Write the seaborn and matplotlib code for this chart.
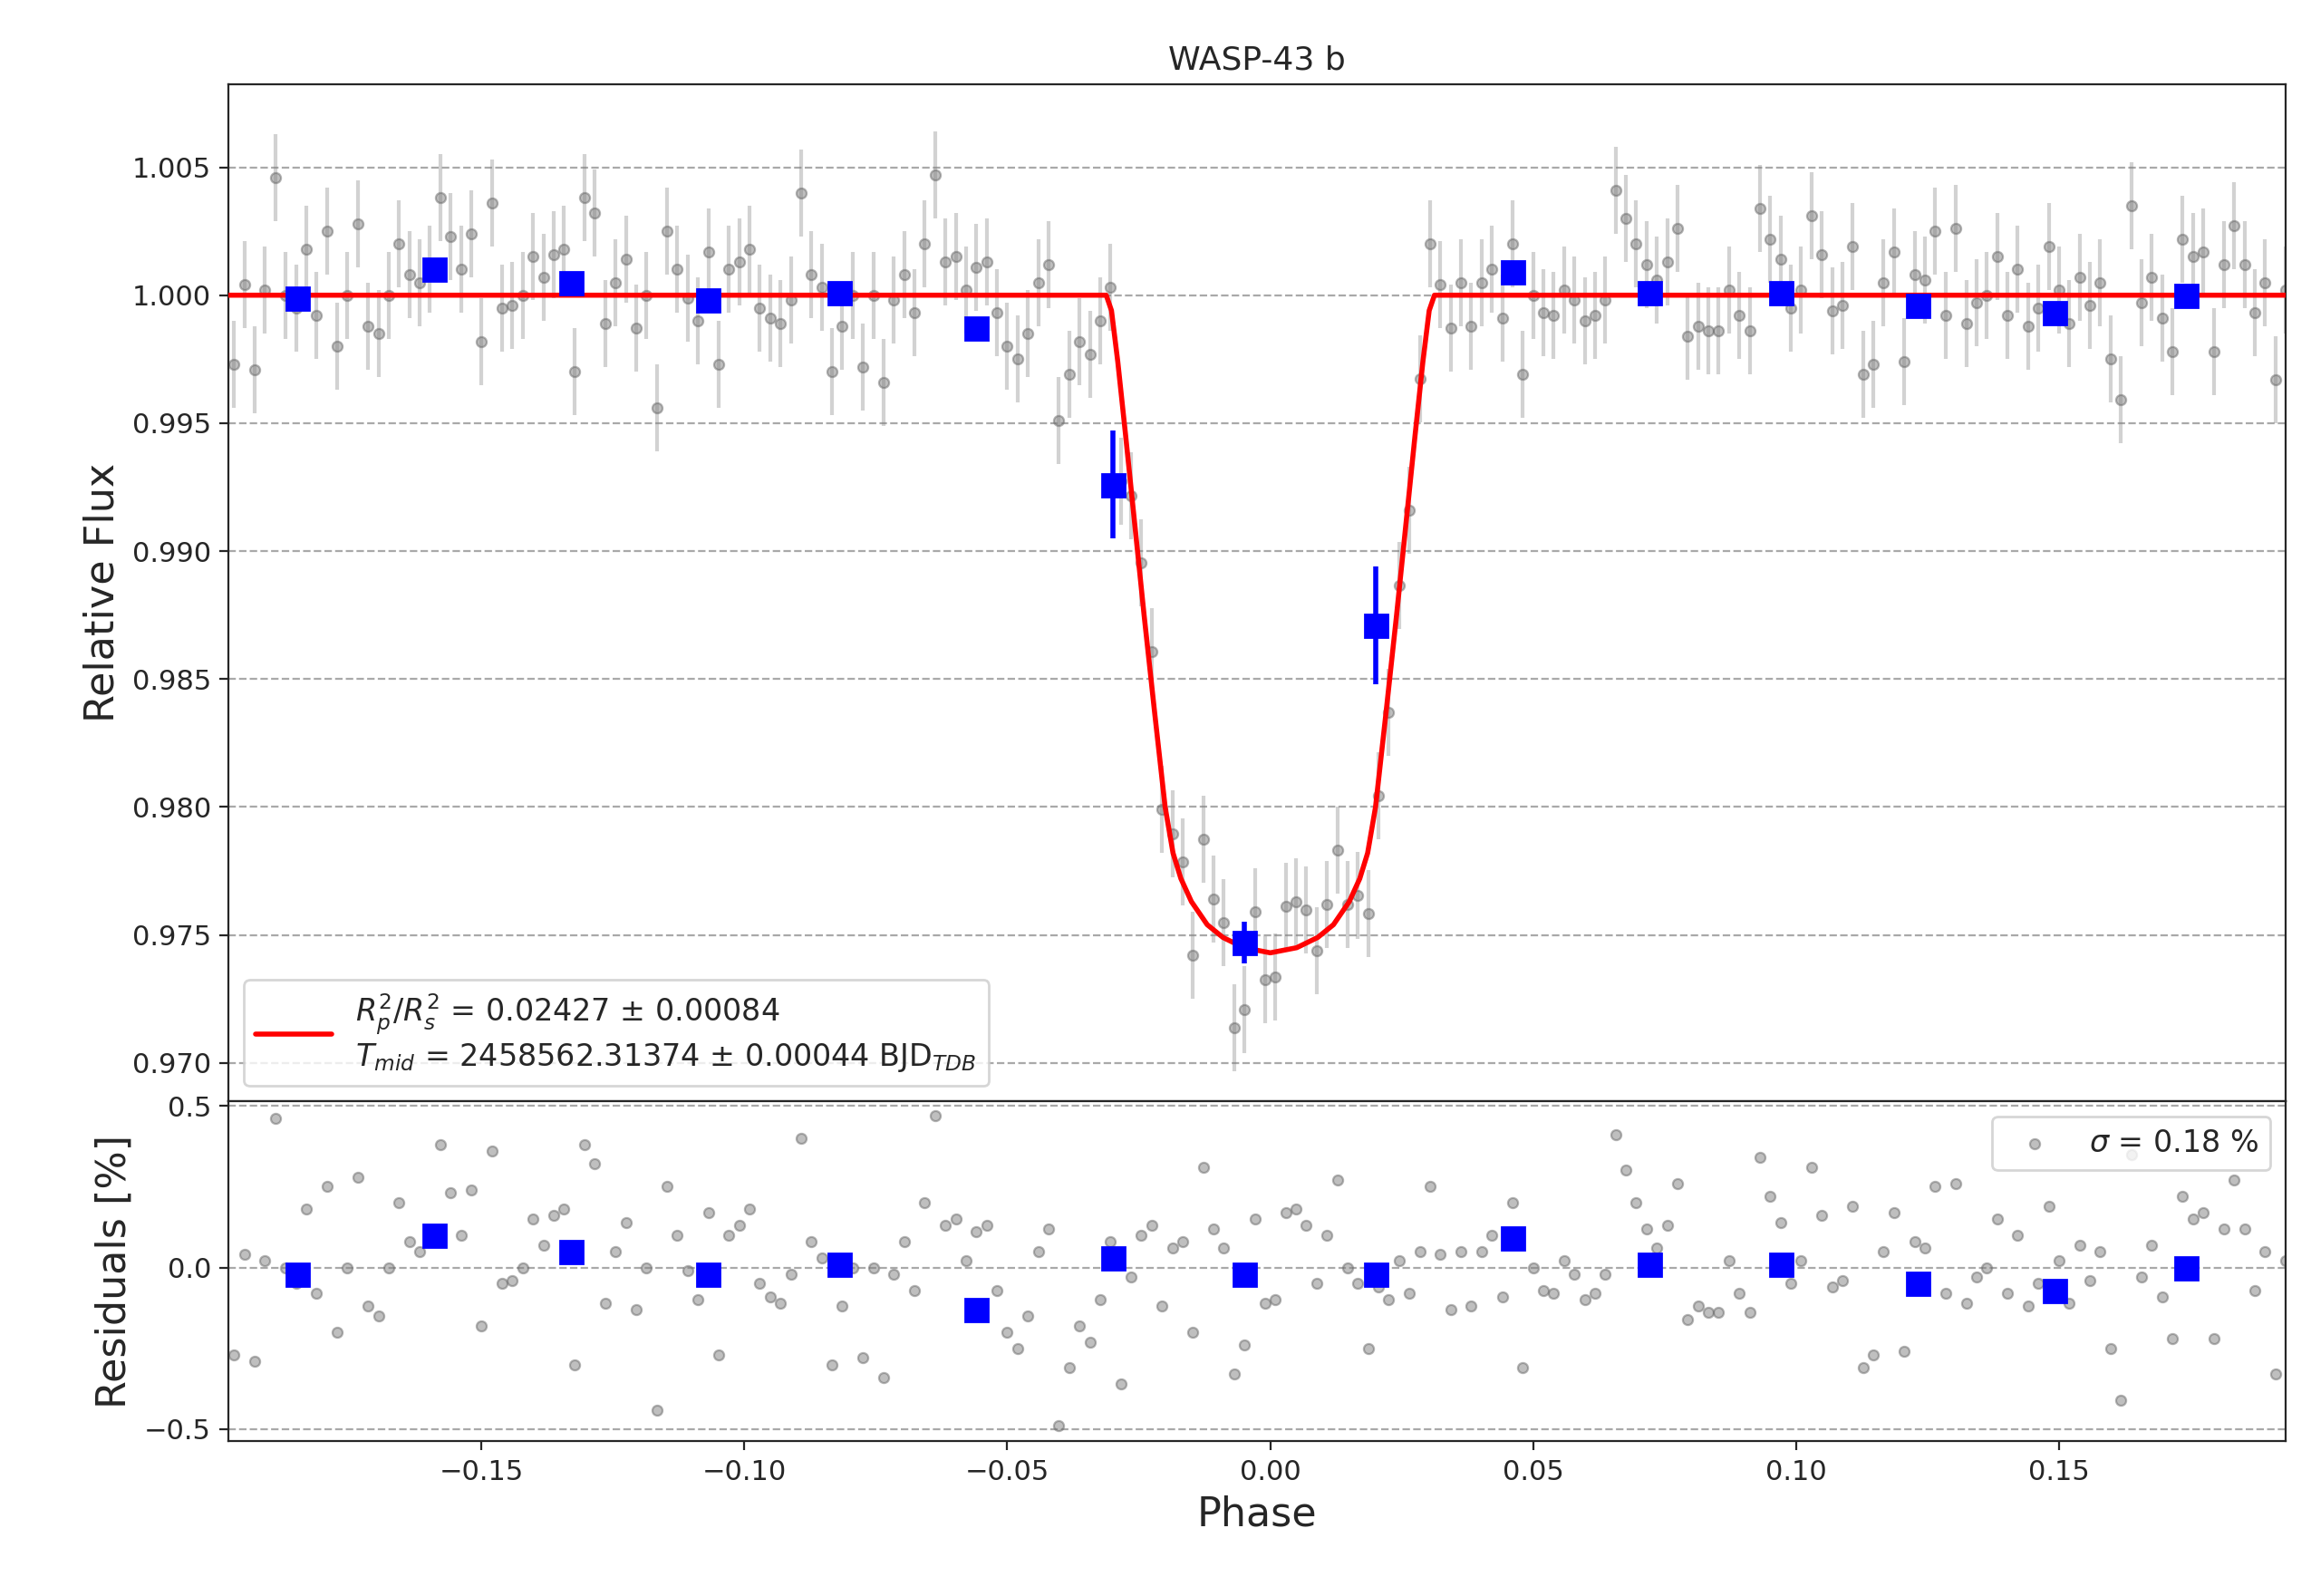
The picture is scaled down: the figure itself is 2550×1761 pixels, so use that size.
import numpy as np
import matplotlib
matplotlib.use('Agg')
import matplotlib.pyplot as plt
import seaborn as sns

# unbinned data: phase grid and residuals in percent
phase_start = -0.197
phase_step = 0.00196
resid = [-0.27, 0.04, -0.29, 0.02, 0.46, 0.00, -0.05, 0.18, -0.08, 0.25,
         -0.20, 0.00, 0.28, -0.12, -0.15, 0.00, 0.20, 0.08, 0.05, 0.10,
         0.38, 0.23, 0.10, 0.24, -0.18, 0.36, -0.05, -0.04, 0.00, 0.15,
         0.07, 0.16, 0.18, -0.30, 0.38, 0.32, -0.11, 0.05, 0.14, -0.13,
         0.00, -0.44, 0.25, 0.10, -0.01, -0.10, 0.17, -0.27, 0.10, 0.13,
         0.18, -0.05, -0.09, -0.11, -0.02, 0.40, 0.08, 0.03, -0.30, -0.12,
         0.00, -0.28, 0.00, -0.34, -0.02, 0.08, -0.07, 0.20, 0.47, 0.13,
         0.15, 0.02, 0.11, 0.13, -0.07, -0.20, -0.25, -0.15, 0.05, 0.12,
         -0.49, -0.31, -0.18, -0.23, -0.10, 0.08, -0.36, -0.03, 0.10, 0.13,
         -0.12, 0.06, 0.08, -0.20, 0.31, 0.12, 0.06, -0.33, -0.24, 0.15,
         -0.11, -0.10, 0.17, 0.18, 0.13, -0.05, 0.10, 0.27, 0.00, -0.05,
         -0.25, -0.06, -0.10, 0.02, -0.08, 0.05, 0.25, 0.04, -0.13, 0.05,
         -0.12, 0.05, 0.10, -0.09, 0.20, -0.31, 0.00, -0.07, -0.08, 0.02,
         -0.02, -0.10, -0.08, -0.02, 0.41, 0.30, 0.20, 0.12, 0.06, 0.13,
         0.26, -0.16, -0.12, -0.14, -0.14, 0.02, -0.08, -0.14, 0.34, 0.22,
         0.14, -0.05, 0.02, 0.31, 0.16, -0.06, -0.04, 0.19, -0.31, -0.27,
         0.05, 0.17, -0.26, 0.08, 0.06, 0.25, -0.08, 0.26, -0.11, -0.03,
         0.00, 0.15, -0.08, 0.10, -0.12, -0.05, 0.19, 0.02, -0.11, 0.07,
         -0.04, 0.05, -0.25, -0.41, 0.35, -0.03, 0.07, -0.09, -0.22, 0.22,
         0.15, 0.17, -0.22, 0.12, 0.27, 0.12, -0.07, 0.05, -0.33, 0.02]
point_err = 0.0017

# transit model, key points
model_phase = [-0.20, -0.0312, -0.0302, -0.029, -0.0275, -0.026, -0.024, -0.022,
               -0.020, -0.0185, -0.017, -0.015, -0.012, -0.009, -0.005, 0.0,
               0.005, 0.009, 0.012, 0.015, 0.017, 0.0185, 0.020, 0.022, 0.024,
               0.026, 0.0275, 0.029, 0.0302, 0.0312, 0.20]
model_flux = [1.0, 1.0, 0.9994, 0.9974, 0.9945, 0.9915, 0.9875, 0.9837,
              0.9800, 0.9782, 0.9772, 0.9763, 0.9754, 0.9749, 0.9745, 0.9743,
              0.9745, 0.9749, 0.9754, 0.9763, 0.9772, 0.9782, 0.9800, 0.9837, 0.9875,
              0.9915, 0.9945, 0.9974, 0.9994, 1.0, 1.0]

# binned data
bin_phase = [-0.185, -0.159, -0.133, -0.107, -0.082, -0.056, -0.030, -0.005,
             0.020, 0.046, 0.072, 0.097, 0.123, 0.149, 0.174]
bin_flux = [0.9999, 1.0010, 1.0005, 0.9998, 1.0001, 0.9987, 0.9926, 0.9747,
            0.9871, 1.0009, 1.0001, 1.0001, 0.9996, 0.9993, 1.0000]
bin_err = [0.0003, 0.0003, 0.0003, 0.0003, 0.0003, 0.0003, 0.0021, 0.0008,
           0.0023, 0.0003, 0.0003, 0.0003, 0.0003, 0.0003, 0.0003]
bin_resid = [-0.02, 0.10, 0.05, -0.02, 0.01, -0.13, 0.03, -0.02, -0.02, 0.09,
             0.01, 0.01, -0.05, -0.07, 0.00]

phase = phase_start + phase_step * np.arange(len(resid))
flux = np.interp(phase, model_phase, model_flux) + np.array(resid) / 100.0

sns.set_style('ticks')
fig = plt.figure(figsize=(12.75, 8.805), dpi=200)
ax1 = fig.add_axes([0.099, 0.310, 0.890, 0.637])
ax2 = fig.add_axes([0.099, 0.097, 0.890, 0.213], sharex=ax1)

# top panel
ax1.errorbar(phase, flux, yerr=point_err, fmt='none', ecolor='gray', alpha=0.35, lw=1.5, zorder=1)
sns.scatterplot(x=phase, y=flux, ax=ax1, color='gray', alpha=0.5, s=16, edgecolor='dimgray',
                linewidth=0.8, zorder=2)
sns.lineplot(x=model_phase, y=model_flux, ax=ax1, color='red', lw=2, zorder=3,
             label='$R_p^2/R_s^2$ = 0.02427 $\\pm$ 0.00084\n$T_{mid}$ = 2458562.31374 $\\pm$ 0.00044 BJD$_{TDB}$')
ax1.errorbar(bin_phase, bin_flux, yerr=bin_err, fmt='s', color='blue', ms=9, lw=2, zorder=4)
ax1.set_ylim(0.9685, 1.00823)
ax1.set_xlim(-0.198, 0.193)
ax1.yaxis.grid(True, ls='--', color='darkgray')
ax1.set_ylabel('Relative Flux', fontsize=16)
ax1.set_title('WASP-43 b', fontsize=13)
ax1.tick_params(labelbottom=False, labelsize=11)
ax1.legend(loc='lower left', fontsize=12, handlelength=2.5)

# residual panel
sns.scatterplot(x=phase, y=resid, ax=ax2, color='gray', alpha=0.5, s=16, edgecolor='dimgray',
                linewidth=0.8, label='$\\sigma$ = 0.18 %')
ax2.plot(bin_phase, bin_resid, 's', color='blue', ms=9, zorder=4)
ax2.set_ylim(-0.537, 0.514)
ax2.set_yticks([-0.5, 0.0, 0.5])
ax2.yaxis.grid(True, ls='--', color='darkgray')
ax2.set_ylabel('Residuals [%]', fontsize=16)
ax2.set_xlabel('Phase', fontsize=16)
ax2.tick_params(labelsize=11)
ax2.legend(loc='upper right', fontsize=12)

for a in (ax1, ax2):
    for sp in a.spines.values():
        sp.set_visible(True)

fig.savefig('out.png', dpi=200)
